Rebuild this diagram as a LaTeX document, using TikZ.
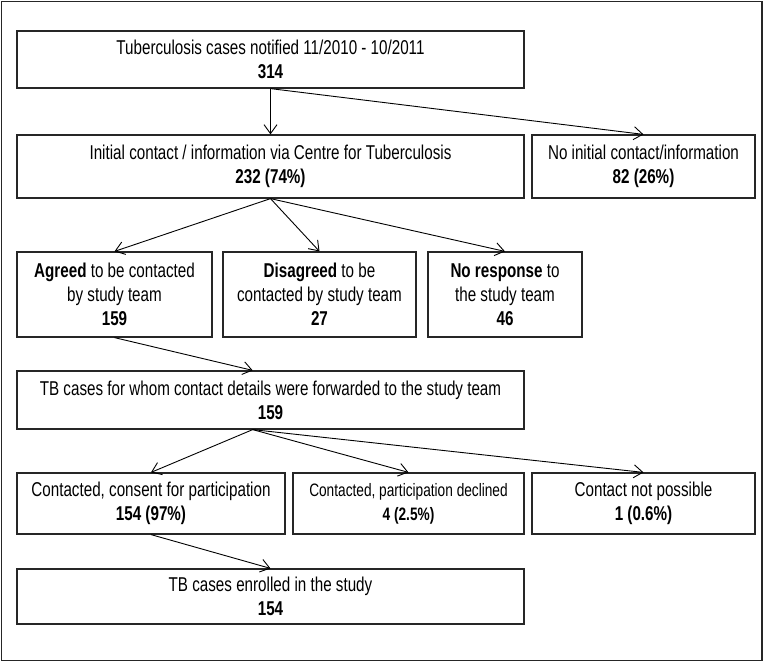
\documentclass[tikz,border=0pt]{standalone}
\usepackage{fontspec}
\setmainfont[FakeStretch=0.76]{Liberation Sans}
\usetikzlibrary{arrows.meta,calc}
\tikzset{
  box/.style={draw=black!85,line width=1.2pt,rectangle,inner sep=0pt,align=center,font=\fontsize{20}{24}\selectfont},
  arr/.style={-{Straight Barb[length=9pt,width=13pt]},line width=0.9pt},
}
\begin{document}
\begin{tikzpicture}[x=1pt,y=-1pt]
    \useasboundingbox (0,0) rectangle (764,662);
    \draw[line width=1.3pt,black!85] (1.5,1.5) rectangle (762,660.5); %枠
    % 1段目
    \node[box,minimum width=507pt,minimum height=57pt] (notif) at (270.5,59.5) {Tuberculosis cases notified 11/2010 - 10/2011\\\textbf{314}};
    % 2段目
    \node[box,minimum width=507pt,minimum height=63pt] (initial) at (270.5,166.5) {Initial contact / information via Centre for Tuberculosis\\\textbf{232 (74\%)}};
    \node[box,minimum width=223pt,minimum height=63pt] (noinit) at (643.5,166.5) {No initial contact/information\\\textbf{82 (26\%)}};
    % 3段目
    \node[box,minimum width=195pt,minimum height=85pt] (agreed) at (114.5,294.5) {\textbf{Agreed} to be contacted\\by study team\\\textbf{159}};
    \node[box,minimum width=193pt,minimum height=85pt] (disagreed) at (319.5,294.5) {\textbf{Disagreed} to be\\contacted by study team\\\textbf{27}};
    \node[box,minimum width=154pt,minimum height=85pt] (noresp) at (505,294.5) {\textbf{No response} to\\the study team\\\textbf{46}};
    % 4段目
    \node[box,minimum width=507pt,minimum height=58pt] (fwd) at (270.5,400) {TB cases for whom contact details were forwarded to the study team\\\textbf{159}};
    % 5段目
    \node[box,minimum width=268pt,minimum height=61pt] (consent) at (151,503.5) {Contacted, consent for participation\\\textbf{154 (97\%)}};
    \node[box,minimum width=231pt,minimum height=61pt,font=\fontsize{18}{24}\selectfont] (declined) at (408.5,503.5) {Contacted, participation declined\\\textbf{4 (2.5\%)}};
    \node[box,minimum width=223pt,minimum height=61pt] (notposs) at (643.5,503.5) {Contact not possible\\\textbf{1 (0.6\%)}};
    % 6段目
    \node[box,minimum width=507pt,minimum height=55pt] (enrolled) at (270.5,596.5) {TB cases enrolled in the study\\\textbf{154}};
    % 矢印
    \draw[arr] (notif.south) -- (initial.north);
    \draw[arr] (notif.south) -- (noinit.north);
    \draw[arr] (initial.south) -- (agreed.north);
    \draw[arr] (initial.south) -- (disagreed.north);
    \draw[arr] (initial.south) -- (noresp.north);
    \draw[arr] (agreed.south) -- ($(fwd.north west)!0.465!(fwd.north east)$);
    \draw[arr] ($(fwd.south west)!0.465!(fwd.south east)$) -- (consent.north);
    \draw[arr] ($(fwd.south west)!0.465!(fwd.south east)$) -- (declined.north);
    \draw[arr] ($(fwd.south west)!0.465!(fwd.south east)$) -- (notposs.north);
    \draw[arr] (consent.south) -- (enrolled.north);
\end{tikzpicture}
\end{document}
